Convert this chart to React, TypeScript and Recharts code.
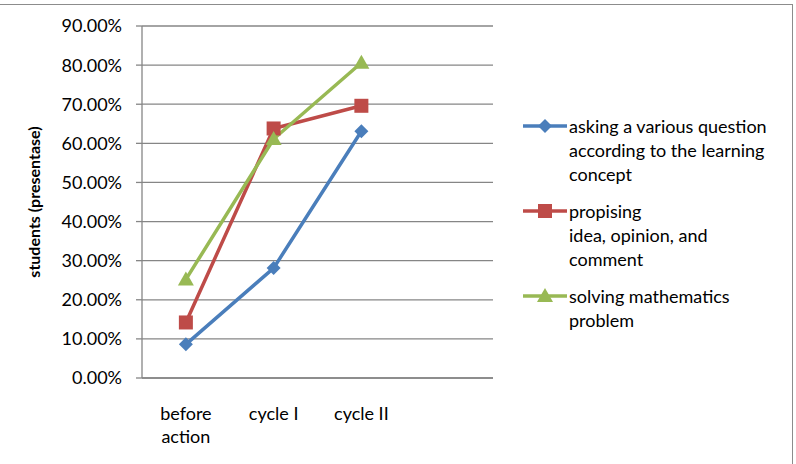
import { LineChart, Line, XAxis, YAxis, CartesianGrid } from 'recharts';

const categories = ['before action', 'cycle I', 'cycle II'];
const slotTicks = [0, 1, 2, 3, 4];
const yTicks = [0, 0.1, 0.2, 0.3, 0.4, 0.5, 0.6, 0.7, 0.8, 0.9];

const askingValues = [0.086, 0.281, 0.631];
const proposingValues = [0.142, 0.638, 0.696];
const solvingValues = [0.252, 0.611, 0.806];

const series = [
  { key: 'asking', color: '#4A7EBB', shape: 'diamond', lines: ['asking a various question', 'according to the learning', 'concept'] },
  { key: 'proposing', color: '#BE4B48', shape: 'square', lines: ['propising', 'idea, opinion, and', 'comment'] },
  { key: 'solving', color: '#98B954', shape: 'triangle', lines: ['solving mathematics', 'problem'] },
];

const rows = categories.map((name, i) => ({
  name,
  pos: i + 0.5,
  asking: askingValues[i],
  proposing: proposingValues[i],
  solving: solvingValues[i],
}));

const FONT = 'Lato, "Open Sans", sans-serif';
const AXIS = '#868686';

function Marker({ cx, cy, shape, color }: any) {
  if (cx == null || cy == null) return null;
  if (shape === 'diamond') {
    const s = 7;
    return <path d={`M${cx},${cy - s}L${cx + s},${cy}L${cx},${cy + s}L${cx - s},${cy}Z`} fill={color} />;
  }
  if (shape === 'square') {
    const s = 7;
    return <rect x={cx - s} y={cy - s} width={s * 2} height={s * 2} fill={color} />;
  }
  const s = 8;
  return <path d={`M${cx},${cy - s}L${cx + s},${cy + s * 0.75}L${cx - s},${cy + s * 0.75}Z`} fill={color} />;
}

function CategoryTick({ x, y, payload }: any) {
  const idx = Math.floor(payload.value);
  const label = categories[idx] || '';
  const words = label === 'before action' ? ['before', 'action'] : [label];
  return (
    <text x={x} y={y + 26} textAnchor="middle" fontFamily={FONT} fontSize={18} fill="#000">
      {words.map((w, i) => (
        <tspan key={i} x={x} dy={i === 0 ? 0 : 23}>{w}</tspan>
      ))}
    </text>
  );
}

function LegendIcon({ shape, color }: { shape: string; color: string }) {
  return (
    <svg width={44} height={16} style={{ display: 'block' }}>
      <line x1={0} y1={8} x2={44} y2={8} stroke={color} strokeWidth={3.5} />
      <Marker cx={22} cy={8} shape={shape} color={color} />
    </svg>
  );
}

export default function App() {
  return (
    <div style={{ position: 'fixed', left: 0, top: 0, width: 796, height: 464, background: '#fff', overflow: 'hidden' }}>
      <div style={{ position: 'absolute', left: -2, top: 4, width: 795, height: 480, border: '1px solid #8c8c8c', boxSizing: 'border-box' }} />
      <LineChart width={796} height={464} data={rows} margin={{ top: 26, right: 303, bottom: 0, left: 0 }}>
        <CartesianGrid xAxisId="lab" vertical={false} stroke={AXIS} strokeWidth={1.3} />
        <XAxis
          xAxisId="grid"
          type="number"
          dataKey="pos"
          domain={[0, 4]}
          ticks={slotTicks}
          tick={false}
          tickSize={8}
          height={8}
          stroke={AXIS}
          strokeWidth={1.3}
        />
        <XAxis
          xAxisId="lab"
          type="number"
          dataKey="pos"
          domain={[0, 4]}
          ticks={[0.5, 1.5, 2.5]}
          axisLine={false}
          tickLine={false}
          tick={<CategoryTick />}
          height={78}
        />
        <YAxis
          type="number"
          domain={[0, 0.9]}
          ticks={yTicks}
          width={142}
          tickSize={6}
          tickMargin={14}
          stroke={AXIS}
          strokeWidth={1.3}
          tickFormatter={(v: number) => `${(v * 100).toFixed(2)}%`}
          tick={{ fontFamily: FONT, fontSize: 18, fill: '#000' }}
          label={{
            value: 'students (presentase)',
            angle: -90,
            position: 'insideLeft',
            offset: 34,
            style: { fontFamily: FONT, fontSize: 16, fontWeight: 700, fill: '#000', textAnchor: 'middle' },
          }}
        />
        {series.map((s) => (
          <Line
            key={s.key}
            xAxisId="lab"
            dataKey={s.key}
            stroke={s.color}
            strokeWidth={3.5}
            isAnimationActive={false}
            dot={(p: any) => <Marker key={`${s.key}-${p.index}`} cx={p.cx} cy={p.cy} shape={s.shape} color={s.color} />}
            activeDot={false}
          />
        ))}
      </LineChart>
      <div style={{ position: 'absolute', left: 523, top: 114, fontFamily: FONT, fontSize: 18, lineHeight: '24px', color: '#000' }}>
        {series.map((s) => (
          <div key={s.key} style={{ display: 'flex', alignItems: 'flex-start', marginBottom: 13 }}>
            <div style={{ marginTop: 4, marginRight: 2 }}>
              <LegendIcon shape={s.shape} color={s.color} />
            </div>
            <div>
              {s.lines.map((l, i) => (
                <div key={i}>{l}</div>
              ))}
            </div>
          </div>
        ))}
      </div>
    </div>
  );
}
